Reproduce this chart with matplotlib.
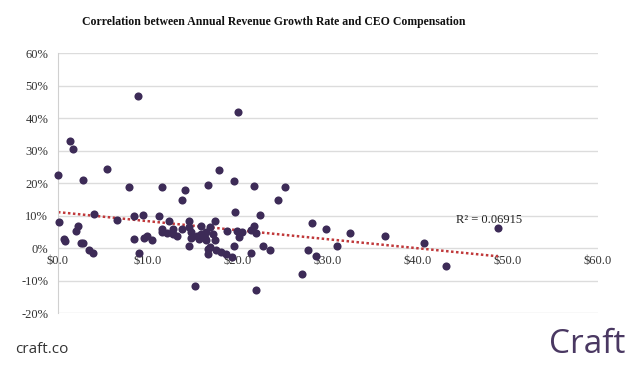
import numpy as np
import matplotlib
matplotlib.use('Agg')
import matplotlib.pyplot as plt
from matplotlib.ticker import FuncFormatter

# CEO compensation ($M) vs annual revenue growth rate (%)
comp = [0.05, 0.15, 0.7, 0.8, 1.33, 1.7, 2.05, 2.25, 2.55, 2.8,
        2.8, 3.4, 3.9, 4.0, 5.5, 6.6, 7.9, 8.4, 8.5, 8.9,
        9.0, 9.4, 9.6, 9.9, 10.4, 11.2, 11.6, 11.6, 11.6, 12.1,
        12.3, 12.8, 12.8, 13.2, 13.8, 13.8, 14.1, 14.6, 14.6, 14.6,
        14.8, 14.8, 15.2, 15.4, 15.7, 15.9, 15.9, 16.3, 16.5, 16.5,
        16.7, 16.7, 16.7, 16.9, 16.9, 17.2, 17.4, 17.5, 17.6, 17.9,
        18.1, 18.7, 18.8, 19.3, 19.6, 19.6, 19.7, 19.9, 20.0, 20.1,
        20.4, 21.5, 21.5, 21.8, 21.8, 22.0, 22.0, 22.5, 22.8, 23.6,
        24.4, 25.2, 27.1, 27.8, 28.2, 28.7, 29.8, 31.0, 32.4, 36.3,
        40.7, 43.1, 48.9]
growth = [22.4, 8.2, 2.8, 2.3, 32.9, 30.4, 5.2, 6.7, 1.5, 1.5,
          20.9, -0.7, -1.5, 10.4, 24.3, 8.6, 18.8, 2.7, 9.8, 46.8,
          -1.5, 10.1, 3.2, 3.9, 2.4, 9.8, 18.8, 6.0, 4.9, 4.7,
          8.5, 6.0, 4.4, 3.9, 5.8, 14.9, 17.8, 8.5, 6.5, 0.8,
          4.9, 3.2, -11.5, 3.9, 2.9, 6.8, 4.4, 3.2, 4.9, 2.4,
          19.5, -0.2, -1.7, 6.5, 0.3, 4.4, 8.5, 2.4, -0.7, 24.0,
          -1.2, -1.7, 5.2, -2.8, 20.7, 0.8, 11.2, 5.2, 42.0, 3.4,
          4.9, 5.5, -1.5, 19.1, 6.8, 4.6, -12.8, 10.3, 0.6, -0.4,
          14.9, 18.8, -7.9, -0.7, 7.8, -2.3, 6.0, 0.8, 4.7, 3.9,
          1.5, -5.6, 6.3]

# linear trend as shown on the chart
trend_intercept = 11.1
trend_slope = -0.278
r_squared = 0.06915

fig = plt.figure(figsize=(6.4, 3.72), dpi=100)
ax = fig.add_axes([0.0906, 0.158, 0.8438, 0.699])

ax.scatter(comp, growth, s=34, color='#3d2b57', zorder=3, linewidths=0, clip_on=False)

tx = np.array([0, max(comp)])
ax.plot(tx, trend_intercept + trend_slope * tx, color='#c0393b', lw=1.8,
        linestyle=(0, (1, 1)), zorder=2)
ax.text(47.9, 8.6, f'R² = {r_squared}', fontsize=9, family='Liberation Serif',
        ha='center', va='center', color='#222222')

ax.set_xlim(0, 60)
ax.set_ylim(-20, 60)
ax.set_xticks(range(0, 61, 10))
ax.set_yticks(range(-20, 61, 10))
ax.xaxis.set_major_formatter(FuncFormatter(lambda v, p: f'${v:.1f}'))
ax.yaxis.set_major_formatter(FuncFormatter(lambda v, p: f'{v:.0f}%'))

ax.grid(axis='y', color='#dcdcdc', lw=1)
ax.set_axisbelow(True)
for s in ['top', 'right']:
    ax.spines[s].set_visible(False)
ax.spines['bottom'].set_position(('data', 0))
ax.spines['bottom'].set_visible(False)
ax.spines['left'].set_color('#d0d0d0')
ax.tick_params(length=0, labelsize=9, colors='#333333')
ax.tick_params(axis='y', pad=7)
ax.tick_params(axis='x', pad=5)
for lab in ax.get_xticklabels() + ax.get_yticklabels():
    lab.set_family('Liberation Serif')

fig.text(0.427, 0.94, 'Correlation between Annual Revenue Growth Rate and CEO Compensation',
         ha='center', va='center', fontsize=8.5, fontweight='bold',
         family='Liberation Serif', color='#111111')
fig.text(0.023, 0.06, 'craft.co', fontsize=11, family='Open Sans',
         color='#333333', va='center')
fig.text(0.977, 0.075, 'Craft', fontsize=24, family='Open Sans',
         color='#4a3862', ha='right', va='center')

fig.savefig('out.png', dpi=100)
